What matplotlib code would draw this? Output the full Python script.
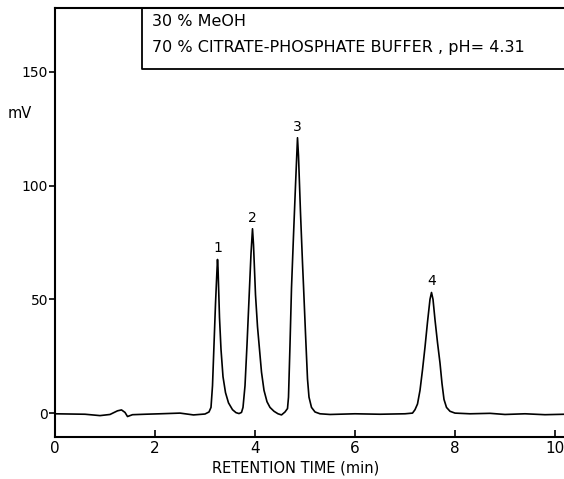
import matplotlib
matplotlib.use("Agg")
import matplotlib.pyplot as plt

# chromatogram trace (time in min, signal in mV)
time_min = [0.0, 0.3, 0.6, 0.9, 1.1, 1.25, 1.33, 1.4, 1.45, 1.55, 1.8, 2.1, 2.5, 2.77, 3.0, 3.08,
            3.12, 3.15, 3.18, 3.21, 3.24, 3.25, 3.26, 3.29, 3.32, 3.36, 3.41, 3.47, 3.55, 3.62, 3.68, 3.73, 3.76,
            3.80, 3.84, 3.88, 3.92, 3.95, 3.97, 4.01, 4.05, 4.09, 4.13, 4.18, 4.24, 4.30, 4.38, 4.46, 4.53, 4.60,
            4.65, 4.67, 4.70, 4.73, 4.77, 4.81, 4.85, 4.87, 4.91, 4.95, 4.97, 5.01, 5.05, 5.08, 5.13, 5.20, 5.30,
            5.5, 6.0, 6.5, 7.0, 7.15,
            7.20, 7.25, 7.30, 7.35, 7.40, 7.45, 7.50, 7.53, 7.56, 7.60, 7.65, 7.70, 7.74, 7.78, 7.83, 7.90,
            8.0, 8.3, 8.7, 9.0, 9.4, 9.8, 10.2]
signal_mv = [-0.3, -0.4, -0.5, -1.1, -0.6, 1.0, 1.4, 0.3, -1.5, -0.7, -0.5, -0.3, 0.0, -0.8, -0.4, 0.5,
             2.5, 12, 30, 48, 63, 67.5, 64, 42, 28, 16, 9, 4.5, 1.5, 0.2, -0.2, 0.3, 2.5,
             12, 30, 50, 70, 81, 74, 52, 38, 28, 18, 10, 5, 2.5, 0.8, -0.3, -0.8, 0.5,
             2, 7, 30, 55, 78, 100, 121, 113, 88, 66, 56, 35, 15, 7, 2.5, 0.5, -0.3,
             -0.6, -0.3, -0.5, -0.3, 0.0,
             1.5, 4, 10, 19, 29, 40, 50, 53, 50, 41, 31, 22, 13, 6, 2.5, 0.8,
             0.0, -0.3, -0.1, -0.6, -0.3, -0.7, -0.5]

peak_labels = ["1", "2", "3", "4"]
peak_times = [3.25, 3.95, 4.85, 7.53]
peak_heights = [67.5, 81, 121, 53]

x_ticks = [0, 2, 4, 6, 8, 10]
y_ticks = [0, 50, 100, 150]
box_lines = ["30 % MeOH", "70 % CITRATE-PHOSPHATE BUFFER , pH= 4.31"]

fig = plt.figure(figsize=(5.64, 4.79), dpi=100)
ax = fig.add_axes([55 / 564, 1 - 437 / 479, 1 - 55 / 564, (437 - 8) / 479])

ax.plot(time_min, signal_mv, color="black", lw=1.2)

for lab, t, h in zip(peak_labels, peak_times, peak_heights):
    ax.annotate(lab, (t, h), xytext=(0, 3), textcoords="offset points",
                ha="center", va="bottom", fontsize=10)

ax.set_xlim(0, 10.18)
ax.set_ylim(-10.5, 178)
ax.set_xticks(x_ticks)
ax.set_yticks(y_ticks)
ax.tick_params(axis="x", direction="in", length=5, width=1.2, labelsize=11, pad=3)
ax.tick_params(axis="y", direction="out", length=4, width=1.2, labelsize=10, pad=1)
ax.spines["right"].set_visible(False)
for s in ["left", "top", "bottom"]:
    ax.spines[s].set_linewidth(1.5)

ax.set_xlabel("RETENTION TIME (min)", fontsize=10.5, labelpad=1)
ax.xaxis.set_label_coords(0.473, -0.055)
ax.text(-0.069, 0.755, "mV", transform=ax.transAxes, fontsize=10.5, ha="center", va="center")

# eluent box in the upper right
ax.plot([1.74, 1.74, 10.18], [178, 151, 151], color="black", lw=1.3, clip_on=False)
ax.text(1.94, 172, box_lines[0], fontsize=11.5, va="center")
ax.text(1.94, 160.5, box_lines[1], fontsize=11.5, va="center")

fig.savefig("out.png", dpi=100)
